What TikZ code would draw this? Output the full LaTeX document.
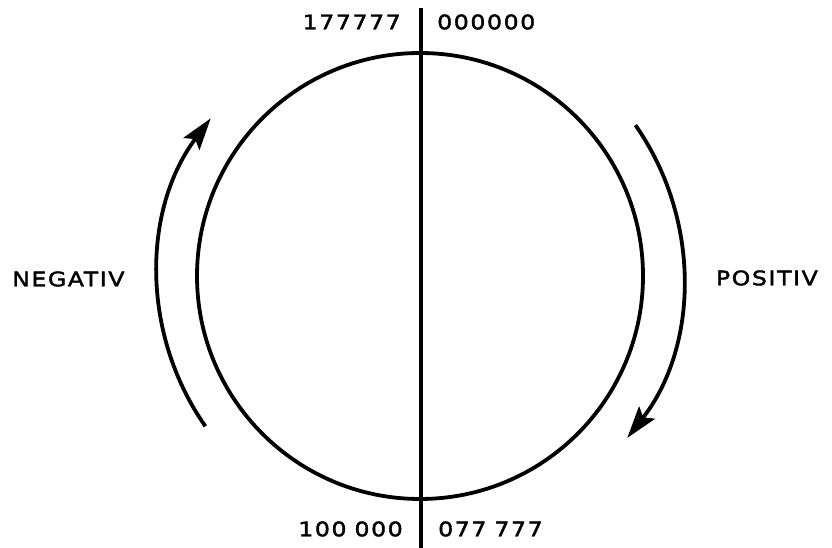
\documentclass[tikz,border=0pt]{standalone}
\usepackage{fontspec}
\newfontfamily\dialfont[FakeStretch=1.18,LetterSpace=8,FakeBold=2]{DejaVu Sans}
\usetikzlibrary{arrows.meta}

\begin{document}
\begin{tikzpicture}[
  x=1pt, y=1pt,
  lbl/.style={font=\dialfont\fontsize{20}{20}\selectfont, inner sep=0pt},
  ring/.style={draw=black, line width=3.8pt},
  arr/.style={-{Stealth[length=32pt,width=20pt,inset=6pt]}, draw=black, line width=3.8pt}
]
  \useasboundingbox (0,0) rectangle (832,548);
  \coordinate (c) at (420,272);
  \coordinate (top) at (421,540);
  \coordinate (bot) at (421,0);
  \draw[ring] (c) circle (223);
  \draw[ring, line width=3.2pt] (top) -- (bot);
  \draw[arr] ([shift={(215:262)}]c) arc (215:143:262);
  \draw[arr] ([shift={(35:263)}]c) arc (35:-38:263);
  \node[lbl, anchor=east] (tl) at (401,526) {177777};
  \node[lbl, anchor=west] (tr) at (437,526) {000000};
  \node[lbl, anchor=east] (bl) at (403,19) {100\hspace{8pt}000};
  \node[lbl, anchor=west] (br) at (438,19) {077\hspace{8pt}777};
  \node[lbl, anchor=west] (neg) at (12,269) {NEGATIV};
  \node[lbl, anchor=east] (pos) at (818,270) {POSITIV};
\end{tikzpicture}
\end{document}
